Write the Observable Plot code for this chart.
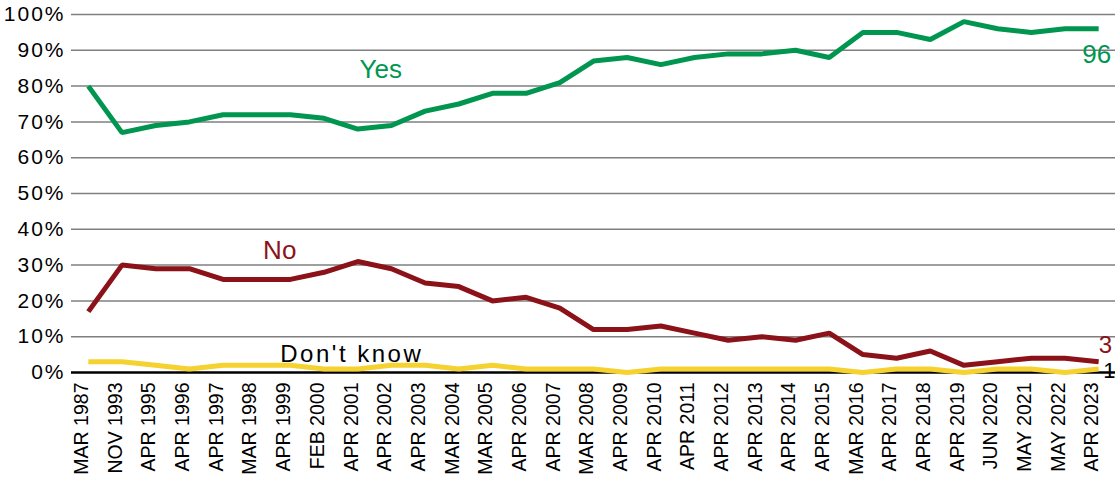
<!DOCTYPE html>
<html>
<head>
<meta charset="utf-8">
<script src="https://cdn.jsdelivr.net/npm/d3@7"></script>
<script src="https://cdn.jsdelivr.net/npm/@observablehq/plot@0.6"></script>
<style>
  html, body { margin: 0; padding: 0; background: #fff; overflow: hidden; }
  #chart svg { display: block; max-width: none; font-family: "Liberation Sans", Arial, sans-serif; }
</style>
</head>
<body>
<div id="chart"></div>
<script>
const dates = ["MAR 1987","NOV 1993","APR 1995","APR 1996","APR 1997","MAR 1998","APR 1999","FEB 2000","APR 2001","APR 2002","APR 2003","MAR 2004","MAR 2005","APR 2006","APR 2007","MAR 2008","APR 2009","APR 2010","APR 2011","APR 2012","APR 2013","APR 2014","APR 2015","MAR 2016","APR 2017","APR 2018","APR 2019","JUN 2020","MAY 2021","MAY 2022","APR 2023"];
const yes = [80,67,69,70,72,72,72,71,68,69,73,75,78,78,81,87,88,86,88,89,89,90,88,95,95,93,98,96,95,96,96];
const no = [17,30,29,29,26,26,26,28,31,29,25,24,20,21,18,12,12,13,11,9,10,9,11,5,4,6,2,3,4,4,3];
const dontKnow = [3,3,2,1,2,2,2,1,1,2,2,1,2,1,1,1,0,1,1,1,1,1,1,0,1,1,0,1,1,0,1];
const seriesNames = ["Yes","No","Don't know"];
const seriesColors = ["#009650","#8C1219","#F5D22F"];
const labelColors = ["#009650","#8C1219","#000000"];
const yTicks = [0,10,20,30,40,50,60,70,80,90,100];

const rows = [];
[yes, no, dontKnow].forEach((vals, s) => vals.forEach((v, i) => rows.push({series: seriesNames[s], date: dates[i], value: v})));
const last = dates[dates.length - 1];

const plot = Plot.plot({
  width: 1116,
  height: 488,
  marginTop: 14,
  marginBottom: 116,
  marginLeft: 71,
  marginRight: 1,
  style: {fontFamily: "Liberation Sans, Arial, sans-serif", background: "#fff", color: "#000", overflow: "visible"},
  x: {type: "point", domain: dates, padding: 0.5, round: false},
  y: {domain: [0, 100]},
  color: {domain: seriesNames, range: seriesColors},
  marks: [
    Plot.ruleY(yTicks.filter(d => d > 0), {stroke: "#7f7f7f", strokeWidth: 1.5}),
    Plot.ruleY([0], {stroke: "#000", strokeWidth: 2.5}),
    Plot.axisY({ticks: yTicks, tickFormat: d => d + "%", tickSize: 0, tickPadding: 6, fontSize: 21, label: null}),
    Plot.axisX({tickRotate: -90, tickSize: 0, tickPadding: 10, fontSize: 19.5, label: null, dx: -6.5}),
    Plot.line(rows, {x: "date", y: "value", z: "series", stroke: "series", strokeWidth: 5, strokeLinejoin: "miter", strokeLinecap: "butt"}),
    Plot.text([seriesNames[0]], {x: () => dates[8], y: () => 84.5, dx: 23, fill: labelColors[0], fontSize: 26, textAnchor: "middle"}),
    Plot.text([seriesNames[1]], {x: () => dates[5], y: () => 34, dx: 23, fill: labelColors[1], fontSize: 26, textAnchor: "middle"}),
    Plot.text([seriesNames[2]], {x: () => dates[8], y: () => 5.2, dx: -6, fill: labelColors[2], fontSize: 24, textAnchor: "middle"}),
    Plot.text([yes[yes.length - 1]], {x: () => last, y: d => d, dx: -2, dy: 25.5, fill: labelColors[0], fontSize: 26, textAnchor: "middle"}),
    Plot.text([no[no.length - 1]], {x: () => last, y: d => d, dx: 0, dy: -16, fill: labelColors[1], fontSize: 24, textAnchor: "start"}),
    Plot.text([dontKnow[dontKnow.length - 1]], {x: () => last, y: d => d, dx: 4.5, dy: 2.5, fill: labelColors[2], fontSize: 22, textAnchor: "start"})
  ]
});

const svg = d3.select(plot);
svg.selectAll('g[aria-label="y-axis tick label"] text').attr("letter-spacing", "2px");
svg.selectAll('g[aria-label="text"] text').filter(function(){ return this.textContent === "Don't know"; }).attr("letter-spacing", "2.5px");
document.getElementById("chart").appendChild(plot);
</script>
</body>
</html>
